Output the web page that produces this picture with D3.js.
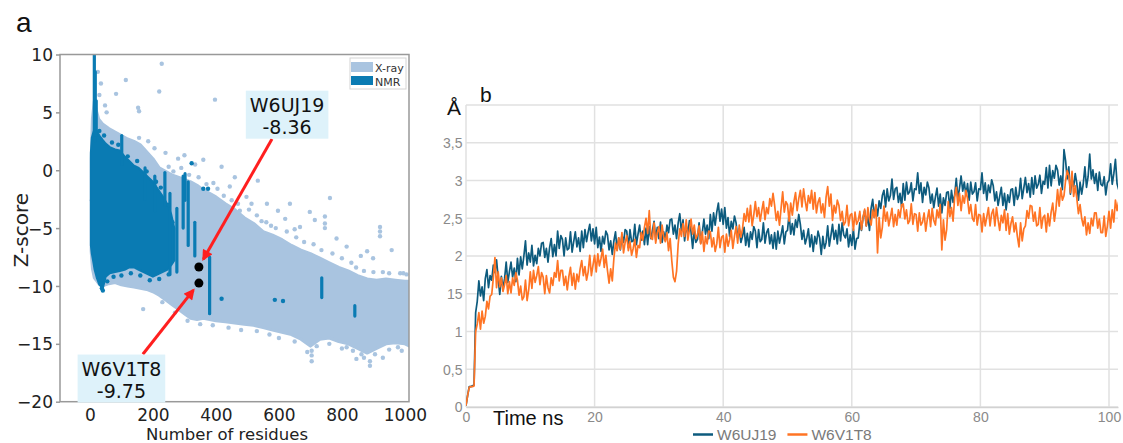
<!DOCTYPE html>
<html>
<head>
<meta charset="utf-8">
<script src="https://cdn.jsdelivr.net/npm/d3@7"></script>
<style>
  html, body { margin: 0; padding: 0; background: #fff; }
  svg { display: block; }
</style>
</head>
<body>
<div id="chart"></div>
<script>
// ---- panel a : ProSA Z-score cloud ----
const zTicks = [10, 5, 0, -5, -10, -15, -20];
const resTicks = [0, 200, 400, 600, 800, 1000];

// X-ray cloud envelope (residues, upper Z, lower Z)
const xrayRes  = [4, 8, 14, 20, 28, 40, 60, 80, 100, 120, 140, 160, 180, 200, 220, 240, 260, 280, 300, 320, 340, 360, 380, 400, 430, 460, 490, 520, 550, 580, 610, 640, 670, 700, 730, 760, 790, 820, 850, 880, 910, 940, 970, 1000, 1015];
const xrayHigh = [1.0, 4.5, 6.0, 5.2, 4.4, 4.0, 3.6, 3.3, 3.0, 2.7, 2.5, 2.2, 1.6, 1.0, 0.2, -0.1, -0.4, -0.6, -0.8, -1.0, -1.3, -1.7, -2.0, -2.3, -2.9, -3.4, -4.1, -4.6, -5.3, -5.6, -6.0, -6.5, -6.9, -7.2, -7.6, -8.0, -8.4, -8.7, -9.1, -9.4, -9.5, -9.4, -9.5, -9.6, -9.6];
const xrayLow  = [-7.0, -8.5, -9.3, -9.5, -9.8, -10.0, -9.8, -9.7, -9.9, -10.0, -10.1, -10.2, -10.3, -10.5, -10.8, -11.2, -11.6, -12.0, -12.4, -12.8, -12.9, -12.8, -12.9, -13.0, -13.1, -13.2, -13.3, -13.4, -13.6, -13.8, -14.0, -14.2, -14.6, -15.2, -14.6, -14.5, -14.8, -15.0, -15.4, -15.8, -15.4, -15.0, -14.9, -15.0, -15.2];

// NMR cloud envelope
const nmrRes  = [3, 6, 10, 15, 22, 30, 41, 50, 63, 80, 95, 110, 125, 140, 155, 170, 185, 200, 215, 230, 245, 258, 268];
const nmrHigh = [1.5, 2.8, 3.2, 3.6, 3.4, 3.0, 2.6, 2.3, 2.0, 1.8, 1.7, 1.2, 0.8, 0.4, 0.2, -0.2, -0.6, -1.0, -1.6, -2.2, -2.9, -3.8, -5.0];
const nmrLow  = [-6.5, -7.2, -7.8, -8.6, -9.3, -9.9, -10.2, -9.2, -8.9, -8.8, -8.7, -8.6, -8.4, -8.4, -8.6, -8.8, -9.0, -9.2, -9.0, -8.8, -8.6, -8.2, -7.8];

// single structures outside / on the rim of the dense cloud [residues, Z]
const xrayDots = [[228, 9.2], [114, 7.8], [220, 6.8], [83, 6.6], [397, 6.1], [153, 5.4], [156, 5.1], [48, 5.6], [53, 5.0], [30, 6.5], [35, 7.5], [25, 8.5],
  [156, 2.8], [185, 2.5], [170, 1.7], [205, 1.9], [240, 1.5], [280, 1.0], [300, 1.3], [334, 0.5], [360, 0.9], [418, 0.3], [460, -0.6], [533, -0.9],
  [392, -1.1], [444, -1.4], [497, -2.3], [476, -3.5], [513, -2.9], [562, -2.9], [635, -2.9], [597, -3.5], [762, -2.4], [698, -3.6], [714, -4.3],
  [746, -4.0], [746, -4.6], [746, -5.0], [667, -4.9], [783, -5.9], [815, -6.6], [921, -4.9], [921, -5.3], [921, -5.7], [899, -7.6], [958, -6.9],
  [995, -8.9], [860, -7.4], [880, -7.0], [704, -15.6], [704, -16.0], [704, -16.5], [815, -15.3], [862, -15.9], [889, -16.5], [889, -16.9],
  [930, -16.2], [978, -15.3], [846, -16.3], [169, -12.0], [6, -2.6], [650, -5.1], [560, -4.5], [620, -4.2],
  [250, 0.3], [265, -0.1], [290, 0.2], [315, -0.4], [345, -0.6], [370, -1.2], [405, -1.6], [425, -2.2], [450, -2.6], [470, -2.9],
  [505, -3.4], [530, -3.9], [545, -4.4], [575, -4.8], [590, -5.0], [625, -5.3], [655, -5.8], [680, -6.2], [710, -6.4], [735, -6.9],
  [770, -7.2], [800, -7.6], [830, -8.0], [845, -8.4], [870, -8.7], [900, -8.8], [930, -8.8], [950, -8.9], [985, -8.9], [1005, -9.0],
  [230, -11.4], [270, -12.3], [310, -13.0], [350, -13.3], [390, -13.4], [440, -13.6], [480, -13.8], [530, -13.9], [570, -14.2], [600, -14.5],
  [650, -14.8], [690, -15.7], [720, -15.2], [760, -15.0], [800, -15.4], [835, -15.6], [870, -16.2], [905, -15.9], [950, -15.5], [990, -15.6]];
const nmrDots = [[35, -9.8], [38, -10.2], [41, -10.4], [323, 0.6], [375, -1.6], [418, -11.1], [587, -11.2], [613, -11.3], [360, -1.6],
  [30, 3.4], [45, 3.0], [70, 2.4], [90, 2.2], [120, 1.2], [150, 0.8], [180, -0.1], [210, -1.0], [225, -1.5], [250, -3.0], [262, -4.5],
  [55, -9.6], [75, -9.2], [100, -9.1], [130, -8.9], [160, -9.1], [190, -9.5], [220, -9.4], [250, -9.0]];
// vertical NMR runs [residues, top Z, bottom Z]
const nmrStreaks = [[14, 10.0, 3.0], [17, 8.5, 2.5], [20, 6.0, 3.0], [101, 3.0, 0.5], [175, 0.2, -2.5], [206, -0.5, -3.5], [238, -0.2, -3.0],
  [254, -2.0, -9.0], [276, -3.3, -8.8], [296, -0.5, -5.0], [302, -0.3, -2.6], [312, -1.0, -6.5], [333, -4.5, -7.4], [380, -7.5, -12.4],
  [736, -9.3, -11.0], [841, -11.7, -12.6]];

const callouts = [
  { name: "W6UJ19", score: -8.36, res: 346, boxRes: 626, boxZ: 4.8, fromRes: 578, fromZ: 2.7 },
  { name: "W6V1T8", score: -9.75, res: 346, boxRes: 100, boxZ: -18.0, fromRes: 168, fromZ: -15.9 }
];

// ---- panel b : RMSD over time (one sample every 0.25 ns) ----
const timeStep = 0.25;
const rmsdUJ19 = [
  0.02, 0.15, 0.27, 0.27, 0.28, 0.29, 1.25, 1.40, 1.67, 1.47, 1.59, 1.41, 1.70, 1.82, 1.58, 1.74, 1.68, 1.88, 1.78, 1.95,
  1.71, 1.49, 1.73, 1.57, 1.70, 1.92, 1.65, 1.79, 1.92, 1.72, 1.84, 1.66, 1.97, 1.75, 1.99, 1.83, 2.00, 2.20, 1.88, 2.04,
  1.92, 2.14, 1.87, 2.01, 1.90, 2.10, 2.00, 2.17, 2.18, 1.98, 2.10, 1.92, 2.11, 2.23, 1.99, 2.15, 2.00, 2.33, 2.10, 2.27,
  2.22, 2.00, 2.24, 2.08, 2.10, 2.32, 2.05, 2.19, 2.32, 2.12, 2.24, 2.06, 2.33, 2.11, 2.35, 2.19, 2.32, 2.42, 2.20, 2.36,
  2.16, 2.38, 2.11, 2.25, 2.06, 2.26, 2.16, 2.33, 2.28, 2.08, 2.20, 2.02, 2.20, 2.32, 2.08, 2.24, 2.08, 2.28, 2.18, 2.35,
  2.33, 2.11, 2.35, 2.19, 2.20, 2.42, 2.15, 2.29, 2.41, 2.21, 2.33, 2.15, 2.37, 2.15, 2.39, 2.23, 2.34, 2.46, 2.22, 2.38,
  2.23, 2.45, 2.18, 2.32, 2.21, 2.41, 2.31, 2.48, 2.49, 2.29, 2.41, 2.23, 2.44, 2.56, 2.32, 2.48, 2.20, 2.40, 2.30, 2.47,
  2.32, 2.10, 2.34, 2.18, 2.22, 2.44, 2.17, 2.31, 2.49, 2.29, 2.41, 2.23, 2.55, 2.33, 2.57, 2.41, 2.58, 2.70, 2.46, 2.62,
  2.42, 2.64, 2.37, 2.51, 2.26, 2.46, 2.36, 2.53, 2.44, 2.24, 2.36, 2.18, 2.26, 2.38, 2.14, 2.30, 2.12, 2.32, 2.22, 2.39,
  2.33, 2.11, 2.35, 2.19, 2.22, 2.44, 2.17, 2.31, 2.36, 2.16, 2.28, 2.10, 2.31, 2.09, 2.33, 2.17, 2.28, 2.40, 2.16, 2.32,
  2.34, 2.56, 2.29, 2.43, 2.28, 2.48, 2.38, 2.55, 2.42, 2.22, 2.34, 2.16, 2.24, 2.36, 2.12, 2.28, 2.06, 2.26, 2.16, 2.33,
  2.24, 2.02, 2.26, 2.10, 2.18, 2.40, 2.13, 2.27, 2.42, 2.22, 2.34, 2.16, 2.42, 2.20, 2.44, 2.28, 2.24, 2.36, 2.12, 2.28,
  2.14, 2.36, 2.09, 2.23, 2.24, 2.44, 2.34, 2.51, 2.60, 2.40, 2.52, 2.34, 2.63, 2.75, 2.51, 2.67, 2.53, 2.73, 2.63, 2.80,
  2.87, 2.65, 2.89, 2.73, 2.80, 3.02, 2.75, 2.89, 2.91, 2.71, 2.83, 2.65, 2.96, 2.74, 2.98, 2.82, 2.85, 2.97, 2.73, 2.89,
  2.88, 3.10, 2.83, 2.97, 2.71, 2.91, 2.81, 2.98, 2.90, 2.70, 2.82, 2.64, 2.78, 2.90, 2.66, 2.82, 2.57, 2.77, 2.67, 2.84,
  2.85, 2.63, 2.87, 2.71, 2.81, 3.03, 2.76, 2.90, 3.06, 2.86, 2.98, 2.80, 2.96, 2.74, 2.98, 2.82, 2.85, 2.97, 2.73, 2.89,
  2.88, 3.10, 2.83, 2.97, 2.74, 2.94, 2.84, 3.01, 2.93, 2.73, 2.85, 2.67, 2.79, 2.91, 2.67, 2.83, 2.61, 2.81, 2.71, 2.88,
  2.89, 2.67, 2.91, 2.75, 2.81, 3.03, 2.76, 2.90, 3.04, 2.84, 2.96, 2.78, 3.04, 2.82, 3.06, 2.90, 2.95, 3.07, 2.83, 2.99,
  2.95, 3.17, 2.90, 3.20, 2.93, 3.13, 3.03, 3.20, 3.14, 2.94, 3.06, 2.88, 3.41, 3.26, 3.02, 3.18, 2.82, 3.02, 2.92, 3.09,
  2.96, 2.74, 2.98, 2.82, 2.96, 3.18, 2.91, 3.05, 3.35, 3.02, 3.14, 2.96, 3.09, 2.87, 3.11, 2.95, 2.93, 3.05, 2.81, 2.97,
  3.00, 3.22, 2.95, 3.09, 3.28, 2.96, 2.88];
const rmsdV1T8 = [
  0.02, 0.15, 0.26, 0.27, 0.27, 0.28, 1.00, 1.10, 1.25, 1.03, 1.27, 1.11, 1.20, 1.40, 1.30, 1.47, 1.49, 1.71, 1.98, 1.58,
  1.79, 1.59, 1.71, 1.53, 1.62, 1.74, 1.50, 1.66, 1.51, 1.71, 1.61, 1.78, 1.68, 1.48, 1.60, 1.42, 1.46, 1.68, 1.41, 1.55,
  1.79, 1.57, 1.81, 1.65, 1.74, 1.86, 1.62, 1.78, 1.72, 1.50, 1.74, 1.58, 1.51, 1.71, 1.61, 1.78, 1.72, 1.94, 1.67, 1.81,
  1.81, 1.61, 1.73, 1.55, 1.73, 1.85, 1.61, 1.77, 1.56, 1.76, 1.66, 1.83, 1.94, 1.74, 1.86, 1.68, 1.79, 2.01, 1.74, 1.88,
  2.01, 1.79, 2.03, 1.87, 1.97, 2.09, 1.85, 2.01, 1.81, 1.64, 1.83, 1.67, 1.97, 2.17, 2.07, 2.24, 2.09, 2.31, 2.04, 2.18,
  2.27, 2.07, 2.19, 2.01, 2.10, 2.22, 1.98, 2.14, 2.11, 2.31, 2.21, 2.38, 2.50, 2.30, 2.60, 2.24, 2.22, 2.44, 2.17, 2.31,
  2.39, 2.17, 2.41, 2.25, 2.19, 2.31, 2.07, 2.23, 1.94, 1.72, 1.66, 1.80, 2.16, 2.36, 2.26, 2.43, 2.26, 2.48, 2.21, 2.35,
  2.49, 2.29, 2.41, 2.23, 2.28, 2.40, 2.16, 2.32, 2.06, 2.26, 2.16, 2.33, 2.32, 2.12, 2.24, 2.06, 2.16, 2.38, 2.11, 2.25,
  2.27, 2.05, 2.29, 2.13, 2.22, 2.34, 2.10, 2.26, 2.39, 2.17, 2.41, 2.25, 2.36, 2.56, 2.46, 2.63, 2.45, 2.67, 2.40, 2.54,
  2.72, 2.52, 2.64, 2.46, 2.60, 2.72, 2.48, 2.64, 2.56, 2.76, 2.66, 2.83, 2.67, 2.47, 2.59, 2.41, 2.63, 2.85, 2.58, 2.72,
  2.68, 2.46, 2.70, 2.54, 2.72, 2.84, 2.60, 2.76, 2.87, 2.65, 2.89, 2.73, 2.60, 2.80, 2.70, 2.87, 2.62, 2.84, 2.57, 2.71,
  2.77, 2.57, 2.69, 2.51, 2.78, 2.92, 2.66, 2.82, 2.47, 2.67, 2.57, 2.74, 2.67, 2.47, 2.59, 2.41, 2.45, 2.67, 2.40, 2.54,
  2.56, 2.34, 2.58, 2.42, 2.47, 2.59, 2.35, 2.51, 2.62, 2.40, 2.64, 2.48, 2.41, 2.61, 2.51, 2.68, 2.04, 2.51, 2.24, 2.38,
  2.66, 2.46, 2.58, 2.40, 2.51, 2.63, 2.39, 2.55, 2.41, 2.61, 2.51, 2.68, 2.69, 2.49, 2.61, 2.43, 2.47, 2.69, 2.42, 2.56,
  2.55, 2.33, 2.57, 2.41, 2.45, 2.57, 2.33, 2.49, 2.61, 2.39, 2.63, 2.47, 2.41, 2.61, 2.51, 2.68, 2.08, 2.48, 2.21, 2.35,
  2.72, 2.52, 2.64, 2.46, 2.79, 2.91, 2.67, 2.83, 2.60, 2.80, 2.70, 2.87, 2.76, 2.56, 2.68, 2.50, 2.46, 2.68, 2.41, 2.55,
  2.54, 2.32, 2.56, 2.40, 2.52, 2.64, 2.40, 2.56, 2.62, 2.40, 2.64, 2.48, 2.34, 2.54, 2.44, 2.61, 2.34, 2.56, 2.29, 2.43,
  2.52, 2.32, 2.44, 2.26, 2.12, 2.44, 2.20, 2.36, 2.40, 2.60, 2.50, 2.67, 2.66, 2.46, 2.58, 2.40, 2.42, 2.64, 2.37, 2.51,
  2.54, 2.32, 2.56, 2.40, 2.58, 2.70, 2.46, 2.62, 2.88, 2.66, 2.90, 2.74, 2.80, 3.00, 3.13, 3.07, 2.84, 3.12, 2.79, 2.93,
  2.76, 2.56, 2.68, 2.50, 2.40, 2.52, 2.28, 2.44, 2.30, 2.50, 2.40, 2.57, 2.57, 2.37, 2.49, 2.31, 2.31, 2.53, 2.26, 2.40,
  2.59, 2.37, 2.61, 2.45, 2.74, 2.60, 2.72];
const timeTicks = [0, 20, 40, 60, 80, 100];
const rmsdTicks = [0, 0.5, 1, 1.5, 2, 2.5, 3, 3.5];
const rmsdTickLabels = ["0", "0,5", "1", "15", "2", "2,5", "3", "3,5"];
const seriesNames = ["W6UJ19", "W6V1T8"];

const width = 1123, height = 443;
const fontA = "'DejaVu Sans', sans-serif";
const fontB = "'Liberation Sans', Arial, sans-serif";
const xrayColor = "#a9c4e0", nmrColor = "#0a7bb3";
const lineColors = ["#0d5b7e", "#ff7424"];

const svg = d3.select("#chart").append("svg")
    .attr("width", width)
    .attr("height", height)
    .attr("viewBox", [0, 0, width, height]);

// ================= panel a =================
const xA = d3.scaleLinear().domain([-95, 1013]).range([60, 409]);
const yA = d3.scaleLinear().domain([-20, 10]).range([401.7, 54.5]);

svg.append("clipPath").attr("id", "clipA")
  .append("rect")
    .attr("x", xA.range()[0]).attr("y", yA.range()[1])
    .attr("width", xA.range()[1] - xA.range()[0])
    .attr("height", yA.range()[0] - yA.range()[1]);

const cloud = svg.append("g").attr("clip-path", "url(#clipA)");

const envelope = d3.area()
    .x(d => xA(d.res))
    .y0(d => yA(d.low))
    .y1(d => yA(d.high));

cloud.append("path")
    .datum(xrayRes.map((r, i) => ({ res: r, high: xrayHigh[i], low: xrayLow[i] })))
    .attr("d", envelope)
    .attr("fill", xrayColor)
    .attr("stroke", xrayColor)
    .attr("stroke-width", 3)
    .attr("stroke-linejoin", "round");

cloud.append("g")
    .attr("fill", xrayColor)
  .selectAll("circle")
  .data(xrayDots)
  .join("circle")
    .attr("cx", d => xA(d[0]))
    .attr("cy", d => yA(d[1]))
    .attr("r", 2.2);

cloud.append("path")
    .datum(nmrRes.map((r, i) => ({ res: r, high: nmrHigh[i], low: nmrLow[i] })))
    .attr("d", envelope)
    .attr("fill", nmrColor)
    .attr("stroke", nmrColor)
    .attr("stroke-width", 2)
    .attr("stroke-linejoin", "round");

cloud.append("g")
    .attr("stroke", nmrColor)
    .attr("stroke-width", 3.2)
    .attr("stroke-linecap", "round")
  .selectAll("line")
  .data(nmrStreaks)
  .join("line")
    .attr("x1", d => xA(d[0])).attr("x2", d => xA(d[0]))
    .attr("y1", d => yA(d[1])).attr("y2", d => yA(d[2]));

cloud.append("g")
    .attr("fill", nmrColor)
  .selectAll("circle")
  .data(nmrDots)
  .join("circle")
    .attr("cx", d => xA(d[0]))
    .attr("cy", d => yA(d[1]))
    .attr("r", 2.2);

// frame
svg.append("rect")
    .attr("x", xA.range()[0]).attr("y", yA.range()[1])
    .attr("width", xA.range()[1] - xA.range()[0])
    .attr("height", yA.range()[0] - yA.range()[1])
    .attr("fill", "none")
    .attr("stroke", "#999")
    .attr("stroke-width", 1.5);

svg.append("g")
    .attr("transform", `translate(${xA.range()[0]},0)`)
    .call(d3.axisLeft(yA).tickValues(zTicks).tickSize(4).tickPadding(3))
    .call(g => g.select(".domain").remove())
    .call(g => g.selectAll("line").attr("stroke", "#999").attr("stroke-width", 1.5))
    .call(g => g.selectAll("text").attr("fill", "#222").attr("dy", "0.36em")
        .style("font", `17px ${fontA}`));

svg.append("g")
    .attr("transform", `translate(0,${yA.range()[0]})`)
    .call(d3.axisBottom(xA).tickValues(resTicks).tickFormat(d3.format("d")).tickSize(0).tickPadding(7.5))
    .call(g => g.select(".domain").remove())
    .call(g => g.selectAll("text").attr("fill", "#222").style("font", `17px ${fontA}`));

svg.append("text")
    .attr("transform", `translate(28,${(yA.range()[0] + yA.range()[1]) / 2 + 2}) rotate(-90)`)
    .attr("text-anchor", "middle")
    .attr("fill", "#222")
    .style("font", `20px ${fontA}`)
    .text("Z-score");

svg.append("text")
    .attr("x", 227).attr("y", 440)
    .attr("text-anchor", "middle")
    .attr("fill", "#222")
    .style("font", `16.5px ${fontA}`)
    .text("Number of residues");

svg.append("text")
    .attr("x", 16).attr("y", 32)
    .attr("fill", "#111")
    .style("font", `28px ${fontB}`)
    .text("a");

// legend a
const legA = svg.append("g").attr("transform", "translate(350,58)");
legA.append("rect").attr("width", 56).attr("height", 31)
    .attr("fill", "#fff").attr("stroke", "#d4d4d4");
[["X-ray", xrayColor, 4, 10], ["NMR", nmrColor, 18, 9]].forEach(([label, color, y, h]) => {
  legA.append("rect").attr("x", 1).attr("y", y).attr("width", 22).attr("height", h).attr("fill", color);
  legA.append("text").attr("x", 25).attr("y", y + 9.5)
      .attr("fill", "#333").style("font", `11px ${fontA}`).text(label);
});

// callouts: arrows, points, boxes
svg.append("defs").append("marker")
    .attr("id", "arrowRed")
    .attr("viewBox", "0 0 10 10")
    .attr("refX", 8).attr("refY", 5)
    .attr("markerUnits", "userSpaceOnUse")
    .attr("markerWidth", 13).attr("markerHeight", 11)
    .attr("orient", "auto")
  .append("path")
    .attr("d", "M0,0L10,5L0,10z")
    .attr("fill", "#ff1f1f");

callouts.forEach(c => {
  const px = xA(c.res), py = yA(c.score);
  const sx = xA(c.fromRes), sy = yA(c.fromZ);
  const len = Math.hypot(px - sx, py - sy);
  const back = 9;
  svg.append("line")
      .attr("x1", sx).attr("y1", sy)
      .attr("x2", px + (sx - px) / len * back)
      .attr("y2", py + (sy - py) / len * back)
      .attr("stroke", "#ff1f1f")
      .attr("stroke-width", 3)
      .attr("marker-end", "url(#arrowRed)");
});

svg.append("g")
    .attr("fill", "#000")
  .selectAll("circle")
  .data(callouts)
  .join("circle")
    .attr("cx", d => xA(d.res))
    .attr("cy", d => yA(d.score))
    .attr("r", 4.5);

callouts.forEach(c => {
  const cx = xA(c.boxRes), cy = yA(c.boxZ);
  const g = svg.append("g");
  const box = g.append("rect").attr("fill", "#def2fa");
  const t1 = g.append("text").attr("x", cx).attr("y", cy - 3)
      .attr("text-anchor", "middle").attr("fill", "#111")
      .style("font", `19px ${fontA}`).text(c.name);
  g.append("text").attr("x", cx).attr("y", cy + 19)
      .attr("text-anchor", "middle").attr("fill", "#111")
      .style("font", `19px ${fontA}`).text(c.score.toFixed(2));
  const w = t1.node().getComputedTextLength() + 8;
  box.attr("x", cx - w / 2).attr("y", cy - 24).attr("width", w).attr("height", 48);
});

// ================= panel b =================
const xB = d3.scaleLinear().domain([0, 101.4]).range([466, 1118]);
const yB = d3.scaleLinear().domain([0, 4]).range([407, 105]);
const gridColor = "#e1e1e1";

svg.append("g")
    .attr("stroke", gridColor)
    .attr("stroke-width", 1.5)
  .selectAll("line")
  .data(rmsdTicks.concat([yB.domain()[1]]))
  .join("line")
    .attr("x1", xB.range()[0]).attr("x2", xB.range()[1])
    .attr("y1", d => yB(d)).attr("y2", d => yB(d));

svg.append("g")
    .attr("stroke", gridColor)
    .attr("stroke-width", 1.5)
  .selectAll("line")
  .data(timeTicks)
  .join("line")
    .attr("x1", d => xB(d)).attr("x2", d => xB(d))
    .attr("y1", yB.range()[0]).attr("y2", yB.range()[1]);

svg.append("g")
    .attr("transform", `translate(${xB.range()[0]},0)`)
    .call(d3.axisLeft(yB).tickValues(rmsdTicks).tickFormat((d, i) => rmsdTickLabels[i]).tickSize(0).tickPadding(3.5))
    .call(g => g.select(".domain").remove())
    .call(g => g.selectAll("text").attr("fill", "#8a8a8a").attr("dy", "0.34em")
        .style("font", `14px ${fontB}`));

svg.append("g")
    .attr("transform", `translate(0,${yB.range()[0]})`)
    .call(d3.axisBottom(xB).tickValues(timeTicks).tickSize(0).tickPadding(4.8))
    .call(g => g.select(".domain").attr("stroke", "#d2d2d2").attr("stroke-width", 1.5))
    .call(g => g.selectAll("text").attr("fill", "#8a8a8a").style("font", `14px ${fontB}`));

svg.append("clipPath").attr("id", "clipB")
  .append("rect")
    .attr("x", xB.range()[0]).attr("y", yB.range()[1])
    .attr("width", xB.range()[1] - xB.range()[0])
    .attr("height", yB.range()[0] - yB.range()[1]);

const line = d3.line()
    .x((d, i) => xB(i * timeStep))
    .y(d => yB(d));

svg.append("g")
    .attr("clip-path", "url(#clipB)")
  .selectAll("path")
  .data([rmsdUJ19, rmsdV1T8])
  .join("path")
    .attr("d", line)
    .attr("fill", "none")
    .attr("stroke", (d, i) => lineColors[i])
    .attr("stroke-width", 1.7)
    .attr("stroke-linejoin", "round");

svg.append("text")
    .attr("x", 447).attr("y", 115)
    .attr("fill", "#111")
    .style("font", `21px ${fontB}`)
    .text("Å");

svg.append("text")
    .attr("x", 480).attr("y", 102)
    .attr("fill", "#111")
    .style("font", `21px ${fontB}`)
    .text("b");

svg.append("text")
    .attr("x", 493).attr("y", 425)
    .attr("fill", "#111")
    .style("font", `20px ${fontB}`)
    .text("Time ns");

// legend b
const legB = svg.append("g").attr("transform", "translate(693,434.5)");
let lx = 0;
seriesNames.forEach((name, i) => {
  legB.append("line").attr("x1", lx).attr("x2", lx + 20)
      .attr("stroke", lineColors[i]).attr("stroke-width", 2.5);
  const t = legB.append("text").attr("x", lx + 24).attr("dy", "0.35em")
      .attr("fill", "#7a7a7a").style("font", `15.5px ${fontB}`).text(name);
  lx += 24 + t.node().getComputedTextLength() + 11;
});
</script>
</body>
</html>
